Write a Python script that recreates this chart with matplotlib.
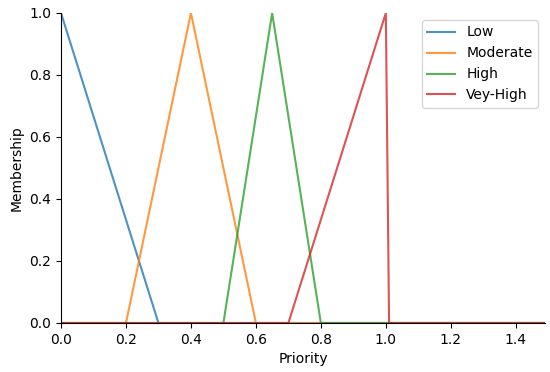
import matplotlib
matplotlib.use("Agg")
import matplotlib.pyplot as plt

labels = ["Low", "Moderate", "High", "Vey-High"]
low_x = [0.0, 0.3, 1.49]
low_y = [1.0, 0.0, 0.0]
mod_x = [0.0, 0.2, 0.4, 0.6, 1.49]
mod_y = [0.0, 0.0, 1.0, 0.0, 0.0]
high_x = [0.0, 0.5, 0.65, 0.8, 1.49]
high_y = [0.0, 0.0, 1.0, 0.0, 0.0]
vhigh_x = [0.0, 0.7, 1.0, 1.01, 1.49]
vhigh_y = [0.0, 0.0, 1.0, 0.0, 0.0]

colors = ["#1f77b4", "#ff7f0e", "#2ca02c", "#d62728"]

fig = plt.figure(figsize=(5.5, 3.72), dpi=100)
ax = fig.add_axes([61/550, 1-323/372, (545-61)/550, (323-13)/372])
for xs, ys, lab, c in zip([low_x, mod_x, high_x, vhigh_x],
                          [low_y, mod_y, high_y, vhigh_y], labels, colors):
    ax.plot(xs, ys, color=c, lw=1.5, label=lab, alpha=0.8)

ax.set_xlim(0, 1.49)
ax.set_ylim(0, 1.0)
ax.set_xlabel("Priority")
ax.set_ylabel("Membership")
ax.spines["top"].set_visible(False)
ax.spines["right"].set_visible(False)
ax.legend(loc="upper right")
fig.savefig("out.png", dpi=100)
